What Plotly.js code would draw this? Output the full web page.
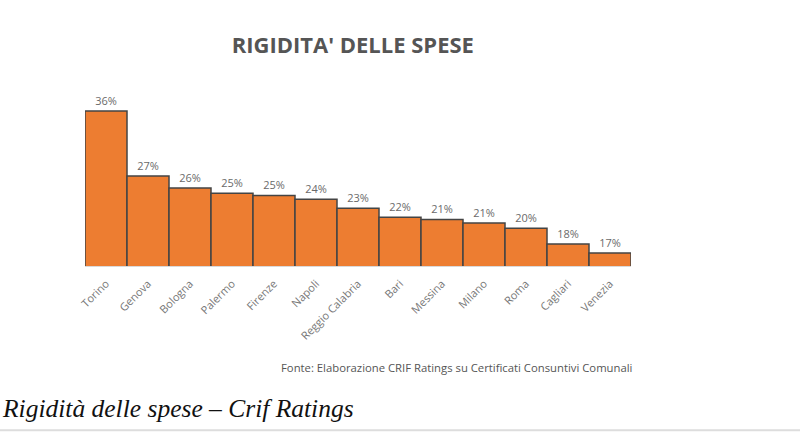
<!DOCTYPE html>
<html>
<head>
<meta charset="utf-8">
<script src="https://cdn.plot.ly/plotly-3.0.1.min.js"></script>
<style>
html,body{margin:0;padding:0;background:#fff;}
#chart{width:800px;height:433px;}
</style>
</head>
<body>
<div id="chart"></div>
<script>
const cities = ["Torino","Genova","Bologna","Palermo","Firenze","Napoli","Reggio Calabria","Bari","Messina","Milano","Roma","Cagliari","Venezia"];
const rigidity = [36.0, 27.3, 25.7, 25.0, 24.7, 24.2, 23.0, 21.8, 21.5, 21.0, 20.3, 18.2, 17.0];
const labels = ["36%","27%","26%","25%","25%","24%","23%","22%","21%","21%","20%","18%","17%"];

const trace = {
  type: "bar",
  x: cities,
  y: rigidity,
  text: labels,
  textposition: "outside",
  cliponaxis: false,
  textfont: {family: "Open Sans, Liberation Sans, sans-serif", size: 11, color: "#6a6a6a"},
  marker: {color: "#ed7d31", line: {color: "#444", width: 1.5}},
  hoverinfo: "none"
};

const layout = {
  width: 800, height: 433,
  margin: {l: 85, r: 169, t: 100, b: 167},
  paper_bgcolor: "#fff", plot_bgcolor: "#fff",
  bargap: 0,
  showlegend: false,
  title: {text: "RIGIDITA' DELLE SPESE", x: 0.441, xanchor: "center", y: 0.895, yanchor: "middle",
          font: {family: "Open Sans, sans-serif", size: 22, color: "#555", weight: "bold"}},
  xaxis: {range: [-0.5, 12.5], showgrid: false, zeroline: false, showline: true, linecolor: "#d9d9d9", linewidth: 1,
          tickangle: -45, ticks: "outside", ticklen: 6, tickcolor: "rgba(0,0,0,0)",
          tickfont: {family: "Open Sans, sans-serif", size: 11, color: "#777"}},
  yaxis: {range: [15.26, 37.48], visible: false, showgrid: false, zeroline: false},
  annotations: [
    {text: "Fonte: Elaborazione CRIF Ratings su Certificati Consuntivi Comunali", xref: "paper", yref: "paper",
     x: 1.005, xanchor: "right", y: -0.61, yanchor: "middle", showarrow: false,
     font: {family: "Open Sans, sans-serif", size: 11.3, color: "#555"}},
    {text: "<i>Rigidità delle spese – Crif Ratings</i>", xref: "paper", yref: "paper",
     x: -0.155, xanchor: "left", y: -0.86, yanchor: "middle", showarrow: false,
     font: {family: "Liberation Serif, DejaVu Serif, serif", size: 25.5, color: "#111"}}
  ],
  shapes: [
    {type: "line", xref: "paper", yref: "paper", x0: -0.16, x1: 1.32, y0: -0.99, y1: -0.99,
     line: {color: "#ddd", width: 2}}
  ]
};

Plotly.newPlot("chart", [trace], layout, {displayModeBar: false, staticPlot: true});
</script>
</body>
</html>
